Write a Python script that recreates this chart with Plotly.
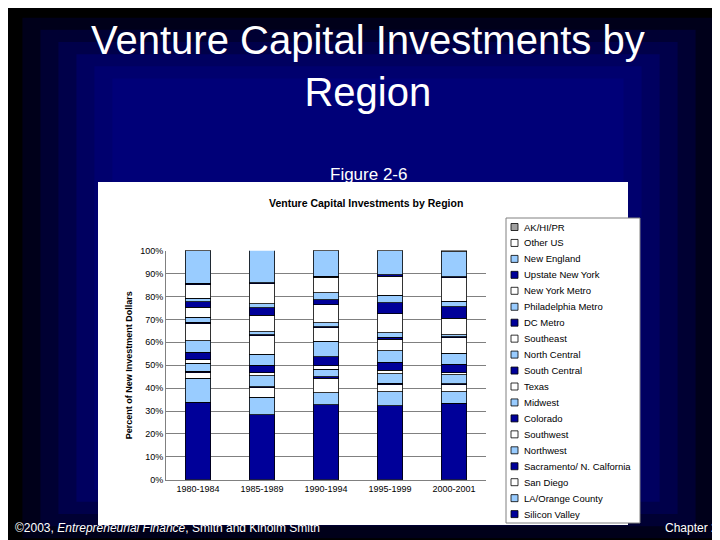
import plotly.graph_objects as go

periods = ["1980-1984", "1985-1989", "1990-1994", "1995-1999", "2000-2001"]
regions = ["Silicon Valley", "LA/Orange County", "San Diego", "Sacramento/ N. Calfornia",
           "Northwest", "Southwest", "Colorado", "Midwest", "Texas", "South Central",
           "North Central", "Southeast", "DC Metro", "Philadelphia Metro", "New York Metro",
           "Upstate New York", "New England", "Other US", "AK/HI/PR"]
silicon_valley = [33.9, 28.4, 32.8, 32.2, 33.3]
la_orange = [10.5, 7.6, 5.2, 6.1, 5.2]
san_diego = [2.3, 4.1, 6.4, 3.2, 2.9]
sacramento = [0.6, 0.6, 0.6, 0.6, 0.6]
northwest = [3.5, 4.7, 3.2, 4.1, 3.8]
southwest = [1.5, 1.4, 1.5, 1.5, 0.9]
colorado = [3.4, 3.2, 4.1, 3.5, 3.8]
midwest = [5.0, 4.7, 6.7, 5.2, 4.7]
texas = [7.4, 8.1, 5.8, 4.9, 6.7]
south_central = [0.6, 0.6, 0.6, 0.9, 0.6]
north_central = [2.2, 1.2, 1.7, 2.0, 0.9]
southeast = [4.5, 7.3, 7.9, 8.2, 7.0]
dc_metro = [2.2, 3.2, 2.0, 4.9, 5.2]
philadelphia = [1.7, 1.7, 3.2, 3.2, 2.3]
ny_metro = [5.9, 8.7, 6.7, 8.4, 10.2]
upstate_ny = [0.6, 0.6, 0.4, 0.6, 0.6]
new_england = [14.2, 14.4, 11.2, 10.5, 10.9]
other_us = [0.1, 0.1, 0.1, 0.1, 0.3]
ak_hi_pr = [0.1, 0.1, 0.1, 0.1, 0.1]
series = [silicon_valley, la_orange, san_diego, sacramento, northwest, southwest, colorado,
          midwest, texas, south_central, north_central, southeast, dc_metro, philadelphia,
          ny_metro, upstate_ny, new_england, other_us, ak_hi_pr]
palette = ["#000099", "#99CCFF", "#FFFFFF"]

def col_of(i, name):
    return "#A0A0A0" if name == "AK/HI/PR" else palette[i % 3]

fig = go.Figure()
for i, (name, vals) in enumerate(zip(regions, series)):
    fig.add_trace(go.Bar(x=periods, y=[v / 100 for v in vals], name=name, showlegend=False,
                         marker=dict(color=col_of(i, name), line=dict(color="black", width=0.8))))

P = lambda px: 1 - px / 540
shapes = []
shapes.append(dict(type="rect", xref="paper", yref="paper", x0=0, x1=1, y0=0, y1=1,
                   fillcolor="#000000", line_width=0, layer="below"))
for k, c in enumerate(["#00001a", "#000033", "#00004a", "#000060", "#00006e", "#000078"]):
    d = 0.02 + k * 0.025
    shapes.append(dict(type="rect", xref="paper", yref="paper", x0=d, x1=1 - d, y0=d * 0.9, y1=1 - d * 0.9,
                       fillcolor=c, line_width=0, layer="below"))
shapes.append(dict(type="rect", xref="paper", yref="paper", x0=90 / 720, x1=620 / 720,
                   y0=P(517), y1=P(174), fillcolor="white", line_width=0, layer="below"))
# legend box
shapes.append(dict(type="rect", xref="paper", yref="paper", x0=498 / 720, x1=632 / 720,
                   y0=P(515), y1=P(210), fillcolor="white", line=dict(color="#808080", width=1)))

annotations = [
    dict(text="Venture Capital Investments by<br>Region", x=0.5, y=P(8), xref="paper", yref="paper",
         xanchor="center", yanchor="top", showarrow=False,
         font=dict(size=40, color="white", family="Liberation Sans, Arial")),
    dict(text="Figure 2-6", x=0.5, y=P(155), xref="paper", yref="paper", showarrow=False,
         font=dict(size=17, color="white")),
    dict(text="<b>Venture Capital Investments by Region</b>", x=358 / 720, y=P(195),
         xref="paper", yref="paper", showarrow=False, font=dict(size=10.5, color="black")),
    dict(text="©2003, <i>Entrepreneurial Finance</i>, Smith and Kiholm Smith", x=5 / 720, y=P(529),
         xref="paper", yref="paper", xanchor="left", showarrow=False, font=dict(size=12, color="white")),
    dict(text="Chapter 2", x=712 / 720, y=P(529), xref="paper", yref="paper", xanchor="right",
         showarrow=False, font=dict(size=12, color="white")),
]
n = len(regions)
for j in range(n):
    i = n - 1 - j
    yc = 219 + j * 15.95
    shapes.append(dict(type="rect", xref="paper", yref="paper", x0=503 / 720, x1=510 / 720,
                       y0=P(yc + 3.5), y1=P(yc - 3.5), fillcolor=col_of(i, regions[i]),
                       line=dict(color="black", width=0.8)))
    annotations.append(dict(text=regions[i], x=514 / 720, y=P(yc), xref="paper", yref="paper",
                            xanchor="left", yanchor="middle", showarrow=False,
                            font=dict(size=9.5, color="black")))

fig.update_layout(
    width=720, height=540, autosize=False, barmode="stack", bargap=0.6,
    paper_bgcolor="#000066", plot_bgcolor="white",
    margin=dict(l=0, r=0, t=0, b=0),
    font=dict(family="Liberation Sans, Arial", color="black"),
    shapes=shapes, annotations=annotations, showlegend=False,
    xaxis=dict(domain=[158 / 720, 478 / 720], tickfont=dict(size=9, color="black"),
               showline=True, linecolor="#808080", ticks="", automargin=False),
    yaxis=dict(domain=[P(471.7), P(242.7)], range=[0, 1], tickformat=".0%", automargin=False,
               dtick=0.1, tickfont=dict(size=9, color="black"), gridcolor="#808080",
               showline=True, linecolor="#808080",
               title=dict(text="<b>Percent of New Investment Dollars</b>", font=dict(size=9), standoff=6)),
)
fig.write_html("out.html")
